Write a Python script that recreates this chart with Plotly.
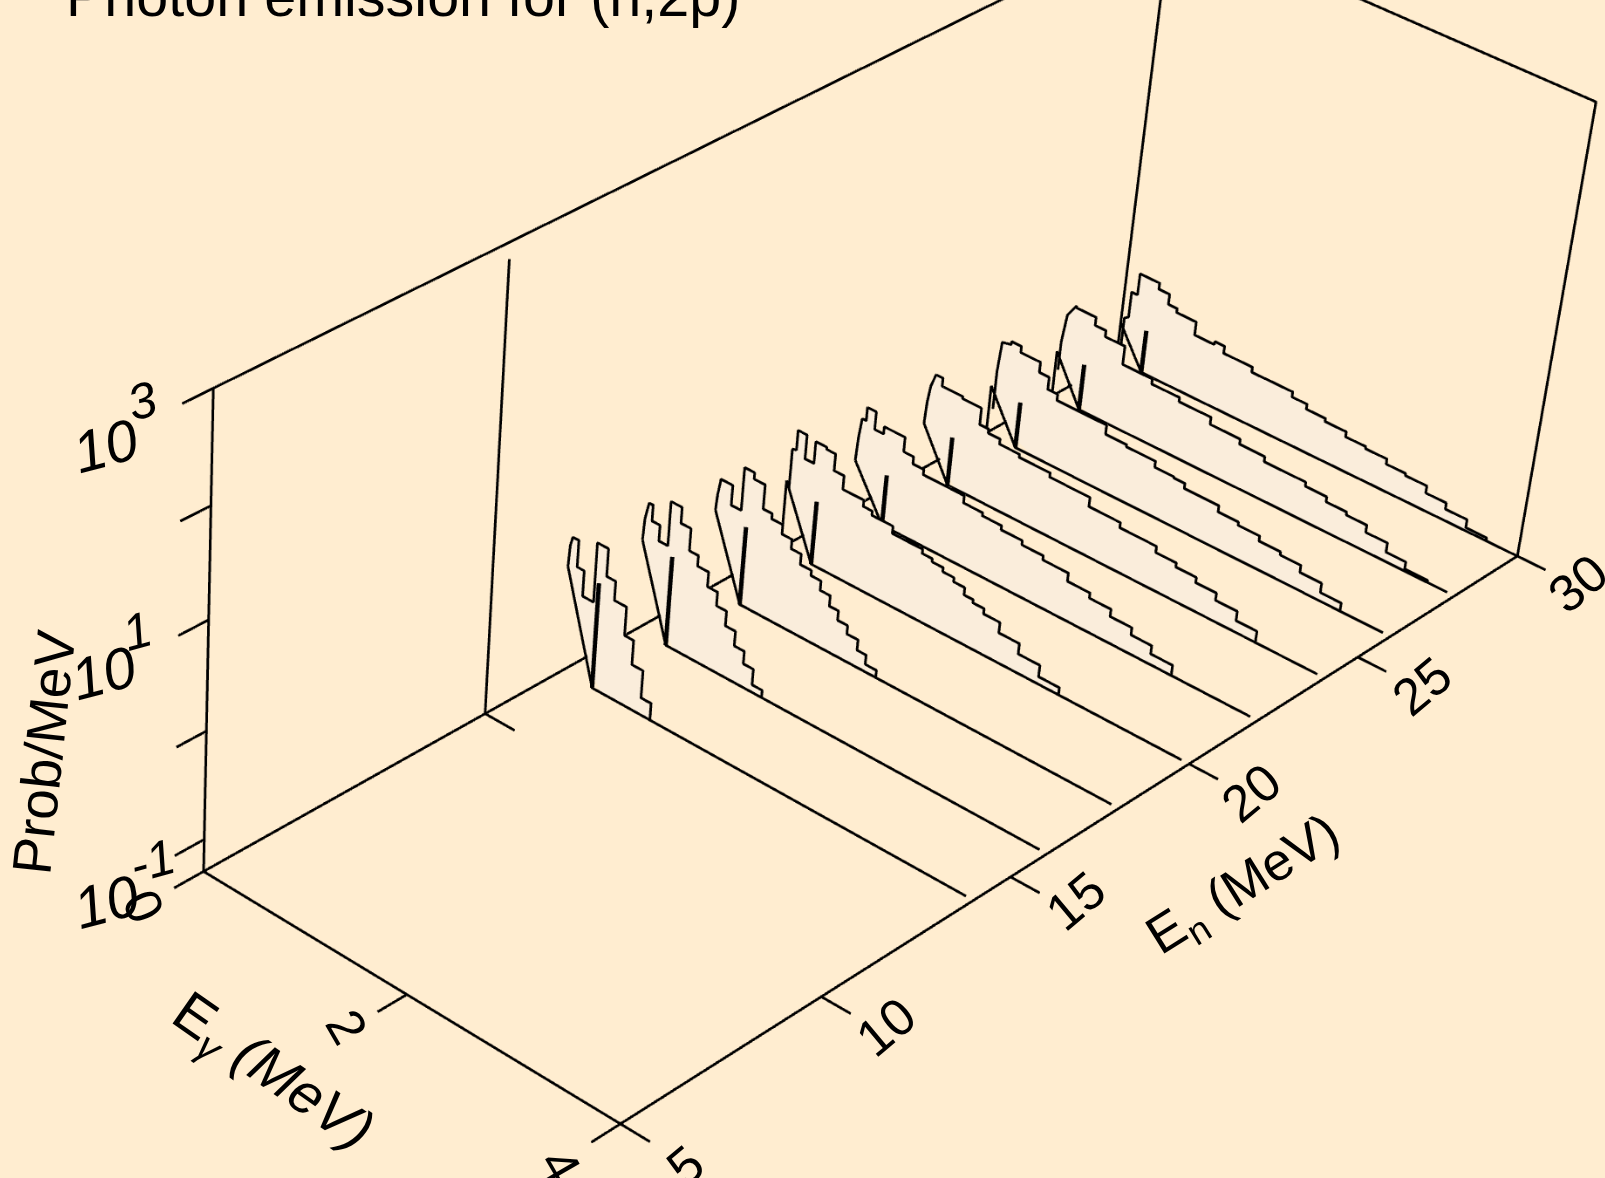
import numpy as np
import plotly.graph_objects as go

# ---------------- data ----------------
P_MIN = 0.05            # floor of the Prob/MeV axis
P_MAX = 1000.0
en_ticks = [5, 10, 15, 20, 25, 30]
eg_ticks = [0, 2, 4]
z_ticks = [-1, 0, 1, 2, 3]

en_values = [14, 16, 18, 20, 22, 24, 26, 28, 30]
# heights are decades above the axis floor
start_height = [1.0, .86, .76, .66, .48, .47, .47, .45, .38]     # Eg=0 point of each spectrum
spike_energy = [.31, .30, .31, .31, .32, .29, .30, .28, .26]
spike_height = [1.0, .85, .75, .61, .49, .47, .45, .45, .42]
has_riser = [False, False, False, True, False, False, True, True, True]
baseline_end = [3.93, 3.93, 3.93, 3.93, 3.93, 3.93, 3.93, 3.93, 4.0]

head_e = [
    [.01, .03],
    [.01, .04],
    [.01, .03],
    [.03, .03, .07, .07],
    [.01, .02, .03, .07, .07],
    [.01, .03, .07],
    [.04, .04, .06, .15],
    [.03, .03, .06, .14],
    [.03, .03, .07, .07],
]
head_h = [
    [1.2, 1.29],
    [1.07, 1.23],
    [.91, 1.06],
    [.60, .98, .99, 1.18],
    [.70, .80, .90, .90, 1.03],
    [.68, .85, .98],
    [.26, .64, .93, .95],
    [.28, .56, .84, .97],
    [.17, .44, .47, .72],
]
step_edges = [
    [.03, .09, .16, .27, .38, .47, .59, .68, .79, .89],
    [.04, .08, .16, .25, .36, .46, .55, .66, .76, .86, .96, 1.06, 1.16, 1.26],
    [.03, .15, .25, .35, .46, .55, .66, .76, .86, .97, 1.07, 1.17, 1.26, 1.36, 1.47, 1.56, 1.67],
    [.07, .16, .25, .36, .45, .55, .76, .85, 1.06, 1.36, 1.46, 1.57, 1.68, 1.79, 1.88, 1.99, 2.15, 2.35, 2.56, 2.76],
    [.07, .16, .25, .46, .56, .67, 1.08, 1.27, 1.46, 1.67, 1.88, 2.13, 2.35, 2.56, 2.77, 2.97, 3.18],
    [.07, .14, .35, .54, .63, .75, .95, 1.26, 1.66, 1.97, 2.33, 2.53, 2.73, 2.93, 3.14, 3.34],
    [.15, .25, .45, .55, .65, 1.15, 1.36, 1.65, 1.84, 1.95, 2.29, 2.49, 2.70, 2.91, 3.11, 3.32, 3.52],
    [.14, .34, .45, .65, .95, 1.23, 1.55, 1.85, 2.1, 2.51, 2.72, 2.92, 3.12, 3.33, 3.52, 3.74],
    [.07, .13, .33, .44, .53, .73, .93, 1.03, 1.32, 1.73, 1.88, 2.07, 2.28, 2.48, 2.69, 2.88, 3.09, 3.29, 3.5, 3.7],
]
step_levels = [
    [1.29, 1.04, .80, 1.36, 1.10, .92, .65, .42, .16],
    [1.23, 1.08, .93, 1.35, 1.2, .99, .89, .75, .62, .48, .34, .22, .07],
    [1.07, .88, 1.29, 1.23, 1.0, .95, .86, .77, .67, .62, .53, .43, .34, .26, .16, .07],
    [1.18, .95, 1.16, 1.14, .98, .85, .79, .75, .68, .64, .61, .57, .53, .46, .43, .38, .28, .18, .07],
    [1.03, .86, .93, .79, .72, .67, .60, .57, .53, .49, .45, .37, .32, .25, .18, .10],
    [.98, .90, .88, .72, .68, .63, .60, .56, .47, .42, .36, .32, .27, .2, .11],
    [.98, .92, .82, .70, .64, .55, .53, .47, .46, .41, .35, .32, .27, .24, .17, .08],
    [.95, .87, .81, .63, .58, .54, .47, .42, .37, .33, .28, .25, .18, .09, .02],
    [.72, .93, .87, .77, .73, .60, .63, .56, .51, .46, .41, .38, .33, .31, .26, .24, .17, .11, .03],
]
extra_line_en = 12.0        # lone full-height vertical behind the first spectrum
extra_line_top = 2.85       # log10 of its top

zm = np.log10(P_MIN)
zt = np.log10(P_MAX)

# Camera of the scene, and the placing of the (oversized) scene so that its
# perspective matches the long-lens, off-centre view of the reference.
EYE = (2.1731, -2.8876, 2.2240)
CENTER = (-.0530, -.2934, -.3263)
UP = (-.0434, -.0406, 1.1762)
ASPECT_EG, ASPECT_PROB = .3842, .3829
W = H = 5024
OFF_X, OFF_Y = -1963, -1518
SCALE = 1605 / 1568

# ---------------- helpers ----------------
def prob(h):
    return P_MIN * 10 ** np.asarray(h, float)

BG = "#FFEDD0"
FILL = "#FAEDDB"
FONT = "Liberation Sans, Arial, sans-serif"
INK = "black"
fig = go.Figure()

def lines(xs, ys, zs, width=3):
    fig.add_trace(go.Scatter3d(x=xs, y=ys, z=zs, mode="lines", showlegend=False, hoverinfo="skip",
                               line=dict(color=INK, width=width), connectgaps=False))

# box edges
xs = [0, 4, 4, None, 0, 0, None, 0, 0, 0, None, 4, 4, 0, 0]
ys = [5, 5, 30, None, 5, 30, None, 5, 5, 30, None, 30, 30, 30, 30]
zs = [P_MIN, P_MIN, P_MIN, None, P_MIN, P_MIN, None, P_MIN, P_MAX, P_MAX, None, P_MIN, P_MAX, P_MAX, P_MIN]
lines(xs, ys, zs)

# ticks
EG_TICK_END = 4.27
EN_TICK_END = 4.3
tx, ty, tz = [], [], []
for en in en_ticks:
    tx += [4, EG_TICK_END, None]; ty += [en, en, None]; tz += [P_MIN, P_MIN, None]
for eg in eg_ticks:
    tx += [eg, eg, None]; ty += [5, EN_TICK_END, None]; tz += [P_MIN, P_MIN, None]
for z in z_ticks:
    tx += [0, 0, None]; ty += [5, EN_TICK_END, None]; tz += [10.0 ** z, 10.0 ** z, None]
tx += [0, .3, None]; ty += [extra_line_en, extra_line_en, None]; tz += [P_MIN, P_MIN, None]
lines(tx, ty, tz)
lines([0, 0], [extra_line_en, extra_line_en], [P_MIN, 10 ** extra_line_top])

# spectra
for n, en in enumerate(en_values):
    h0 = start_height[n]
    curve = list(zip(head_e[n], head_h[n]))
    edges, lev = step_edges[n], step_levels[n]
    for i, l in enumerate(lev):
        curve += [(edges[i], l), (edges[i + 1], l)]
    curve.append((edges[-1], 0.0))
    ce = np.array([q[0] for q in curve]); ch = np.array([q[1] for q in curve])
    se = spike_energy[n]
    me = np.concatenate([[0.0], ce]); mh = np.concatenate([[h0], ch])
    low = np.where(me < se, h0 * (1 - me / se), 0.0)
    low = np.minimum(low, mh)
    m = len(me)
    vx = np.concatenate([me, me]); vz = prob(np.concatenate([mh, low]))
    vy = np.full(2 * m, en + 0.04)
    I, J, K = [], [], []
    for a in range(m - 1):
        I += [a, a + 1]; J += [a + 1, m + a + 1]; K += [m + a, m + a]
    fig.add_trace(go.Mesh3d(x=vx, y=vy, z=vz, i=I, j=J, k=K, color=FILL, opacity=1, flatshading=True,
                            lighting=dict(ambient=1, diffuse=0, specular=0, fresnel=0, roughness=1),
                            hoverinfo="skip", showscale=False))
    lx = ([0.0] if not has_riser[n] else []) + list(ce)
    lh = ([h0] if not has_riser[n] else []) + list(ch)
    lines(lx, [en] * len(lx), prob(lh))
    dx = [0.0, se, baseline_end[n]]
    dz = [prob(h0), P_MIN, P_MIN]
    if has_riser[n]:
        dx = [0.0] + dx; dz = [P_MIN] + dz
    lines(dx, [en] * len(dx), dz)
    lines([se, se], [en, en], [P_MIN, prob(spike_height[n])], width=5)

# ---------------- scene and camera ----------------
axis = dict(visible=False, showgrid=False, showline=False, zeroline=False, showticklabels=False,
            showbackground=False, showspikes=False)
XR = [-0.3, 4.3]; YR = [4, 31]; ZR = [zm - .1, zt + .1]
ax, ay, az = ASPECT_EG * (XR[1] - XR[0]) / 4, 1.0 * (YR[1] - YR[0]) / 25, ASPECT_PROB * (ZR[1] - ZR[0]) / (zt - zm)

def label(eg, en, z, text, dx, dy, angle, size, italic=False):
    return dict(x=eg, y=en, z=z, text=text, showarrow=False, textangle=angle, xshift=dx * SCALE, yshift=-dy * SCALE,
                xanchor="center", yanchor="middle",
                font=dict(family=FONT, size=size, color=INK, style="italic" if italic else "normal"))

SZ = 52
notes = []
for en, dx, dy in [(5, 35, 23), (10, 34, 13), (15, 35, 8), (20, 32, 13), (25, 35, 14), (30, 32, 13)]:
    notes.append(label(EG_TICK_END, en, zm, str(en), dx, dy, -40, SZ))
notes.append(label(2, EN_TICK_END, zm, "2", -30, 15, 60, SZ))
notes.append(label(4, EN_TICK_END, zm, "4", -30, 23, 60, SZ))
notes.append(label(0, EN_TICK_END, zm, "0", -30, 18, 65, SZ))
for z, dx, dy, ex, ey in [(3, -75, 41, -39, -3), (1, -73, 36, -40, -5), (-1, -67, 45, -22, 5)]:
    notes.append(label(0, EN_TICK_END, z, "10", dx, dy, -15, 58, True))
    notes.append(label(0, EN_TICK_END, z, str(z), ex, ey, -15, 50, True))
notes.append(label(0, EN_TICK_END, 1, "Prob/MeV", -131, 114, -84, 55))
notes.append(label(2, EN_TICK_END, zm, "E<sub><i>γ</i></sub> <i>(MeV)</i>", -104, 60, 35, 57))
notes.append(label(EG_TICK_END, 15, zm, "E<sub>n</sub> (MeV)", 200, -6, -32, 53))

fig.update_layout(
    width=W, height=H, margin=dict(l=0, r=0, t=0, b=0), paper_bgcolor=BG, plot_bgcolor=BG, showlegend=False,
    annotations=[dict(text="Photon emission for (n,2p)", xref="paper", yref="paper",
                      x=(64 - OFF_X) / W, y=1 - (-4 - OFF_Y) / H, xanchor="left", yanchor="middle", showarrow=False,
                      font=dict(family=FONT, size=57.5, color=INK))],
    scene=dict(domain=dict(x=[0, 1], y=[0, 1]), aspectmode="manual", aspectratio=dict(x=ax, y=ay, z=az),
               bgcolor=BG,
               camera=dict(eye=dict(x=EYE[0], y=EYE[1], z=EYE[2]), center=dict(x=CENTER[0], y=CENTER[1], z=CENTER[2]),
                           up=dict(x=UP[0], y=UP[1], z=UP[2]), projection=dict(type="perspective")),
               xaxis=dict(range=XR, **axis), yaxis=dict(range=YR, **axis), zaxis=dict(type="log", range=ZR, **axis),
               annotations=notes))
fig.write_html("out.html", config=dict(displayModeBar=False),
               post_script="var g=document.getElementById('{plot_id}');document.documentElement.style.overflow='hidden';"
                           "document.body.style.overflow='hidden';document.body.style.margin='0';"
                           "g.style.position='absolute';g.style.left='%dpx';g.style.top='%dpx';" % (OFF_X, OFF_Y))
